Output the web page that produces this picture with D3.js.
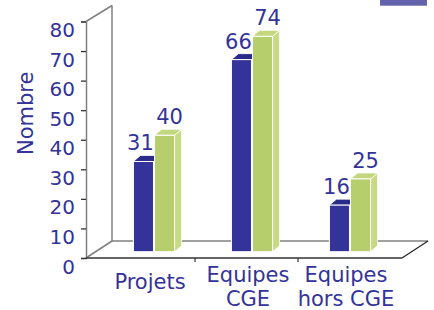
<!DOCTYPE html>
<html><head><meta charset="utf-8">
<script src="https://cdn.jsdelivr.net/npm/d3@7"></script>
<style>html,body{margin:0;padding:0;background:#fff;} svg{display:block;}</style>
</head><body>
<script>
const categories = [["Projets"], ["Equipes", "CGE"], ["Equipes", "hors CGE"]];
const series1 = [31, 66, 16];
const series2 = [40, 74, 25];
const yTicks = [0, 10, 20, 30, 40, 50, 60, 70, 80];
const yTitle = "Nombre";

const W = 434, H = 310;
const txt = "#333399";
const font = "DejaVu Sans, Verdana, sans-serif";
const svg = d3.select("body").append("svg").attr("width", W).attr("height", H);

// front-plane axis scale
const y = d3.scaleLinear().domain([0, 80]).range([258, 21.5]);
// bar plane (set back inside the floor)
const yb = d3.scaleLinear().domain([0, 80]).range([251.7, 251.7 - 80 * 2.91]);
const catIdx = categories.map((d, i) => i);
const xb = d3.scaleBand().domain(catIdx).range([105, 399]).paddingInner(0.58).paddingOuter(0.29);
const xs = d3.scaleBand().domain([0, 1]).range([0, xb.bandwidth()]).paddingInner(0.05);
const xLab = d3.scaleBand().domain(catIdx).range([101, 395]);
const xf = d3.scaleBand().domain(catIdx).range([92, 401]);

const x0 = 86, x1 = 402, ddx = 26, ddy = -17;
const grey = "#808080";

// legend remnant
svg.append("rect").attr("x", 380).attr("y", 0).attr("width", 47).attr("height", 5.7).attr("fill", "#6262ad");

// walls / floor
const g = svg.append("g").attr("fill", "none");
g.append("line").attr("x1", x0 + ddx).attr("x2", x0 + ddx).attr("y1", y(80) - 16).attr("y2", y(0) + ddy).attr("stroke", grey).attr("stroke-width", 1.5);
g.append("line").attr("x1", x0).attr("x2", x0 + ddx).attr("y1", y(80)).attr("y2", y(80) - 16).attr("stroke", grey).attr("stroke-width", 1.5);
g.append("line").attr("x1", x0 + ddx).attr("x2", x1 + ddx).attr("y1", y(0) + ddy).attr("y2", y(0) + ddy).attr("stroke", grey).attr("stroke-width", 1.5);
g.append("line").attr("x1", x0).attr("x2", x0 + ddx).attr("y1", y(0)).attr("y2", y(0) + ddy).attr("stroke", grey).attr("stroke-width", 1.5);
g.append("line").attr("x1", x1).attr("x2", x1 + ddx).attr("y1", y(0)).attr("y2", y(0) + ddy).attr("stroke", "#222").attr("stroke-width", 1.2);

// y axis
const yAxis = d3.axisLeft(y).tickValues(yTicks).tickSize(5).tickPadding(7);
const ya = svg.append("g").attr("transform", `translate(${x0},0)`).call(yAxis);
ya.select(".domain").attr("stroke", grey).attr("stroke-width", 1.5);
ya.selectAll(".tick line").attr("stroke", "#333").attr("stroke-width", 1.3);
ya.selectAll(".tick text").attr("fill", txt).attr("font-size", 20).attr("font-family", font).attr("dy", "0.75em").attr("x", -11);

// front floor line + category ticks
svg.append("line").attr("x1", x0).attr("x2", x1).attr("y1", y(0)).attr("y2", y(0)).attr("stroke", "#333").attr("stroke-width", 1.5);
[1, 2].forEach(i => {
  const tx = xf(i);
  svg.append("line").attr("x1", tx).attr("x2", tx).attr("y1", y(0)).attr("y2", y(0) + 4).attr("stroke", "#333").attr("stroke-width", 1.2);
});

// bars
const bdx = 7, bdy = -6;
const styles = [
  { front: "#333399", top: "#2a2a88", side: "#262680" },
  { front: "#b7ce6c", top: "#c3d87e", side: "#c6da84" }
];
const bars = svg.append("g");
catIdx.forEach(ci => {
  [series1, series2].forEach((s, si) => {
    const v = s[ci];
    const bx = xb(ci) + xs(si), bw = xs.bandwidth();
    const top = yb(v), bot = yb(0);
    const st = styles[si];
    bars.append("polygon")
      .attr("points", [[bx + bw, bot], [bx + bw + bdx, bot + bdy], [bx + bw + bdx, top + bdy], [bx + bw, top]].join(" "))
      .attr("fill", st.side).attr("stroke", "#fff").attr("stroke-width", 0.8);
    bars.append("polygon")
      .attr("points", [[bx, top], [bx + bdx, top + bdy], [bx + bw + bdx, top + bdy], [bx + bw, top]].join(" "))
      .attr("fill", st.top).attr("stroke", "#fff").attr("stroke-width", 0.8);
    bars.append("rect").attr("x", bx).attr("y", top).attr("width", bw).attr("height", bot - top)
      .attr("fill", st.front).attr("stroke", "#fff").attr("stroke-width", 1);
    svg.append("text").attr("x", bx + bw / 2 + (si === 0 ? -3 : 5)).attr("y", top + bdy - 5)
      .attr("text-anchor", "middle").attr("fill", txt).attr("font-size", 21).attr("font-family", font).text(v);
  });
});

// category labels
categories.forEach((lines, ci) => {
  const cx = xLab(ci) + xLab.bandwidth() / 2;
  const t = svg.append("text").attr("text-anchor", "middle").attr("fill", txt).attr("font-size", 21).attr("font-family", font);
  if (lines.length === 1) {
    t.append("tspan").attr("x", cx).attr("y", 289).text(lines[0]);
  } else {
    lines.forEach((l, li) => t.append("tspan").attr("x", cx).attr("y", 281.5 + li * 24.5).text(l));
  }
});

// y title
svg.append("text").attr("transform", "translate(33,113.3) rotate(-90)").attr("text-anchor", "middle")
  .attr("fill", txt).attr("font-size", 21).attr("font-family", font).text(yTitle);
</script>
</body></html>
